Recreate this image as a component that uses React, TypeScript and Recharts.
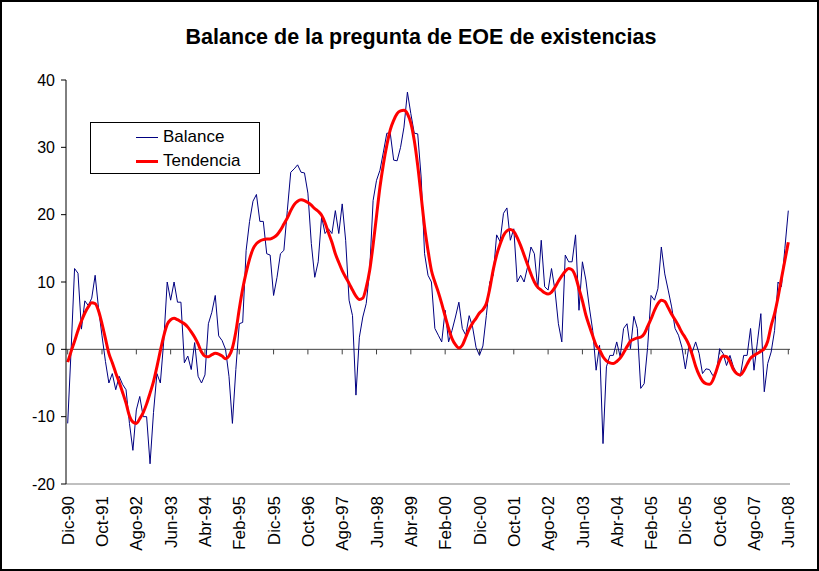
import React from "react";
import {
  LineChart,
  Line,
  XAxis,
  YAxis,
  ReferenceLine,
  Legend,
} from "recharts";

const FONT = '"Liberation Sans", Arial, sans-serif';

const MONTHS = ["Ene", "Feb", "Mar", "Abr", "May", "Jun", "Jul", "Ago", "Sep", "Oct", "Nov", "Dic"];

// monthly, Dic-90 .. Jun-08
const BALANCE = [
  -11, 0, 12, 11.3, 3, 7.2, 6.5, 7.6, 11, 6,
  2, -1.8, -5, -3.6, -6, -4, -5.2, -6, -11, -15,
  -9, -7, -10, -10, -17, -9.4, -3.6, -5, 1.3, 10,
  7.3, 10, 7, 7, -2, -1, -3, 1, -4, -5,
  -3.8, 3.8, 5.5, 8, 2, 1.3, 0, -4, -11, -3,
  3.8, 4, 14.7, 19, 22, 23, 19, 19, 14.2, 14,
  8, 10.7, 14.2, 14.7, 20.6, 26.3, 26.8, 27.4, 26.3, 26.2,
  23.2, 15.7, 10.7, 13, 19.7, 17.2, 17.9, 17.2, 20.6, 17.2,
  21.6, 16.2, 7.3, 5, -6.8, 1.8, 4.8, 6.8, 11.7, 22.1,
  25.1, 26.6, 29.3, 32.1, 32.1, 28.1, 28, 30, 33, 38.2,
  35, 32.1, 32, 25.6, 14.2, 11, 10, 3.1, 2.1, 1.1,
  5.8, 1.1, 2.8, 4.8, 7, 3.1, 2.1, 5, 3.3, 0.3,
  -0.9, 0.5, 5, 10, 11, 17, 16, 20.2, 21, 16.2,
  17.9, 10, 11, 10, 12.2, 15.2, 14.2, 9, 16.2, 9.3,
  8.8, 12, 8.8, 3.8, 1.1, 14, 13, 13, 17, 5.8,
  13, 10.3, 6.3, 2.8, -3.1, 0.6, -14, -2.6, -0.9, -0.9,
  1.1, -1.1, 3.1, 3.8, 0.1, 4.9, 3.1, -5.8, -5.1, 0.3,
  8, 7.3, 9, 15.2, 11.2, 8.8, 6.3, 3.1, 2.1, 0.3,
  -2.9, 0.3, -0.4, 1.1, -0.6, -3.6, -2.9, -3, -3.9, -3.6,
  0.1, -0.6, -2.4, -0.9, -2.6, -3.6, -4, -0.9, -0.9, 3.1,
  -3.1, 1.1, 5.3, -6.3, -2.1, -0.4, 2.8, 10, 9.3, 15,
  20.6,
];

const TENDENCIA = [
  -1.9, -0.3, 1.2, 2.8, 4.2, 5.4, 6.3, 6.9, 6.8, 5.7,
  3.8, 1.6, -0.6, -2, -3.5, -4.9, -6.4, -8, -9.9, -10.8,
  -11, -10.3, -9.4, -8.1, -6.5, -4.8, -2.6, -0.2, 2, 3.7,
  4.4, 4.6, 4.4, 4.1, 3.8, 3.3, 2.6, 1.8, 0.8, -0.4,
  -1, -1.1, -0.8, -0.6, -0.7, -1, -1.4, -1, 0.2, 2.6,
  6, 9, 11.4, 13.4, 14.9, 15.7, 16.1, 16.3, 16.4, 16.4,
  16.6, 17, 17.7, 18.6, 19.5, 20.6, 21.5, 22, 22.2, 22.1,
  21.8, 21.4, 20.9, 20.5, 19.9, 18.8, 17.3, 15.9, 14.2, 12.9,
  11.7, 10.7, 9.8, 8.8, 7.9, 7.4, 7.6, 9.2, 11.7, 15.5,
  19.8, 24.1, 27.5, 30.3, 32.6, 34, 35, 35.4, 35.5, 35,
  33.6, 31, 27.3, 22.8, 18.2, 14.7, 11.7, 10, 8.5, 6.8,
  4.9, 3.1, 1.6, 0.7, 0.2, 0.6, 1.8, 3, 3.9, 4.6,
  5.4, 5.9, 6.8, 9, 11.8, 14, 15.6, 16.9, 17.6, 17.8,
  17.5, 16.6, 15.4, 14, 12.6, 11.2, 10, 9.2, 8.8, 8.4,
  8.2, 8.5, 9.2, 10.1, 10.9, 11.6, 12, 11.8, 10.8, 9,
  7.2, 5.1, 3.5, 2, 0.6, -0.1, -1.1, -1.7, -2, -2.1,
  -1.8, -1.3, -0.5, 0.4, 1.2, 1.5, 1.7, 1.8, 2.3, 3.4,
  4.5, 5.8, 6.8, 7.3, 7.1, 6.2, 5.2, 4.4, 3.5, 2.5,
  1.7, 0.7, -0.8, -2.5, -3.8, -4.7, -5.1, -5.2, -4.6, -3.2,
  -1.7, -1, -1.1, -1.8, -3, -3.6, -3.8, -3.2, -2.2, -1.3,
  -0.9, -0.6, -0.3, 0.1, 1.2, 3.5, 5.3, 7.7, 10.5, 13.2,
  15.9,
];

const TICK_LABELS = [
  "Dic-90", "Oct-91", "Ago-92", "Jun-93", "Abr-94", "Feb-95", "Dic-95", "Oct-96",
  "Ago-97", "Jun-98", "Abr-99", "Feb-00", "Dic-00", "Oct-01", "Ago-02", "Jun-03",
  "Abr-04", "Feb-05", "Dic-05", "Oct-06", "Ago-07", "Jun-08",
];

const Y_TICKS = [-20, -10, 0, 10, 20, 30, 40];

// month label for index i, starting at Dic-90
const monthLabel = (i: number) => {
  const k = 11 + i;
  const yy = (90 + Math.floor(k / 12)) % 100;
  return `${MONTHS[k % 12]}-${String(yy).padStart(2, "0")}`;
};

const data = BALANCE.map((v, i) => ({
  month: monthLabel(i),
  balance: v,
  tendencia: TENDENCIA[i],
}));

const XTick = (props: any) => {
  const { x, y, payload } = props;
  return (
    <text
      x={x}
      y={y}
      transform={`rotate(-90 ${x} ${y})`}
      textAnchor="end"
      dy="0.36em"
      fontSize={17}
      fontFamily={FONT}
      fill="#000"
    >
      {payload.value}
    </text>
  );
};

const LegendBox = (props: any) => {
  const { payload } = props;
  return (
    <div
      style={{
        width: 170,
        height: 52,
        boxSizing: "border-box",
        border: "1px solid #000",
        background: "#fff",
        paddingTop: 2,
        fontFamily: FONT,
        fontSize: 17,
        color: "#000",
      }}
    >
      {(payload || []).map((entry: any) => (
        <div
          key={entry.value}
          style={{ display: "flex", alignItems: "center", height: 24 }}
        >
          <span
            style={{
              display: "inline-block",
              marginLeft: 45,
              marginRight: 5,
              width: 22,
              borderTop: `${entry.value === "Tendencia" ? 3 : 1}px solid ${entry.color}`,
            }}
          />
          <span>{entry.value}</span>
        </div>
      ))}
    </div>
  );
};

const App = () => {
  return (
    <div
      style={{
        position: "absolute",
        left: 0,
        top: 0,
        width: 819,
        height: 571,
        background: "#fff",
      }}
    >
      <div
        style={{
          position: "absolute",
          left: 0,
          top: 25,
          width: 842,
          textAlign: "center",
          fontFamily: FONT,
          fontWeight: "bold",
          fontSize: 21.5,
          lineHeight: "24px",
          color: "#000",
        }}
      >
        Balance de la pregunta de EOE de existencias
      </div>
      <LineChart
        width={819}
        height={571}
        data={data}
        margin={{ top: 80, right: 29, bottom: 0, left: 0 }}
      >
        <XAxis
          dataKey="month"
          ticks={TICK_LABELS}
          interval={0}
          height={87}
          padding={{ left: 1.7, right: 1.7 }}
          axisLine={{ stroke: "#808080" }}
          tickLine={false}
          tickSize={0}
          tickMargin={12}
          tick={<XTick />}
        />
        <XAxis
          xAxisId="top"
          orientation="top"
          dataKey="month"
          height={0}
          padding={{ left: 1.7, right: 1.7 }}
          axisLine={{ stroke: "#808080" }}
          tick={false}
          tickLine={false}
        />
        <YAxis
          domain={[-20, 40]}
          ticks={Y_TICKS}
          interval={0}
          width={66}
          axisLine={{ stroke: "#000" }}
          tickLine={{ stroke: "#000" }}
          tickSize={5}
          tickMargin={6}
          tick={{ fontSize: 16, fill: "#000", fontFamily: FONT }}
        />
        <YAxis
          yAxisId="right"
          orientation="right"
          domain={[-20, 40]}
          width={0}
          axisLine={{ stroke: "#808080" }}
          tick={false}
          tickLine={false}
        />
        <ReferenceLine y={0} stroke="#404040" strokeWidth={1} />
        {TICK_LABELS.map((m) => (
          <ReferenceLine
            key={m}
            segment={[
              { x: m, y: 0 },
              { x: m, y: -0.75 },
            ]}
            stroke="#404040"
          />
        ))}
        <Legend
          layout="vertical"
          align="center"
          verticalAlign="middle"
          content={<LegendBox />}
          wrapperStyle={{ position: "absolute", left: 90, top: 122, width: 170, height: 52 }}
        />
        <Line
          name="Balance"
          dataKey="balance"
          type="linear"
          stroke="#000080"
          strokeWidth={1}
          dot={false}
          isAnimationActive={false}
        />
        <Line
          name="Tendencia"
          dataKey="tendencia"
          type="monotone"
          stroke="#FF0000"
          strokeWidth={3}
          dot={false}
          isAnimationActive={false}
        />
      </LineChart>
      <div
        style={{
          position: "absolute",
          left: 0,
          top: 0,
          width: 819,
          height: 571,
          boxSizing: "border-box",
          border: "2px solid #000",
          pointerEvents: "none",
        }}
      />
    </div>
  );
};

export default App;
